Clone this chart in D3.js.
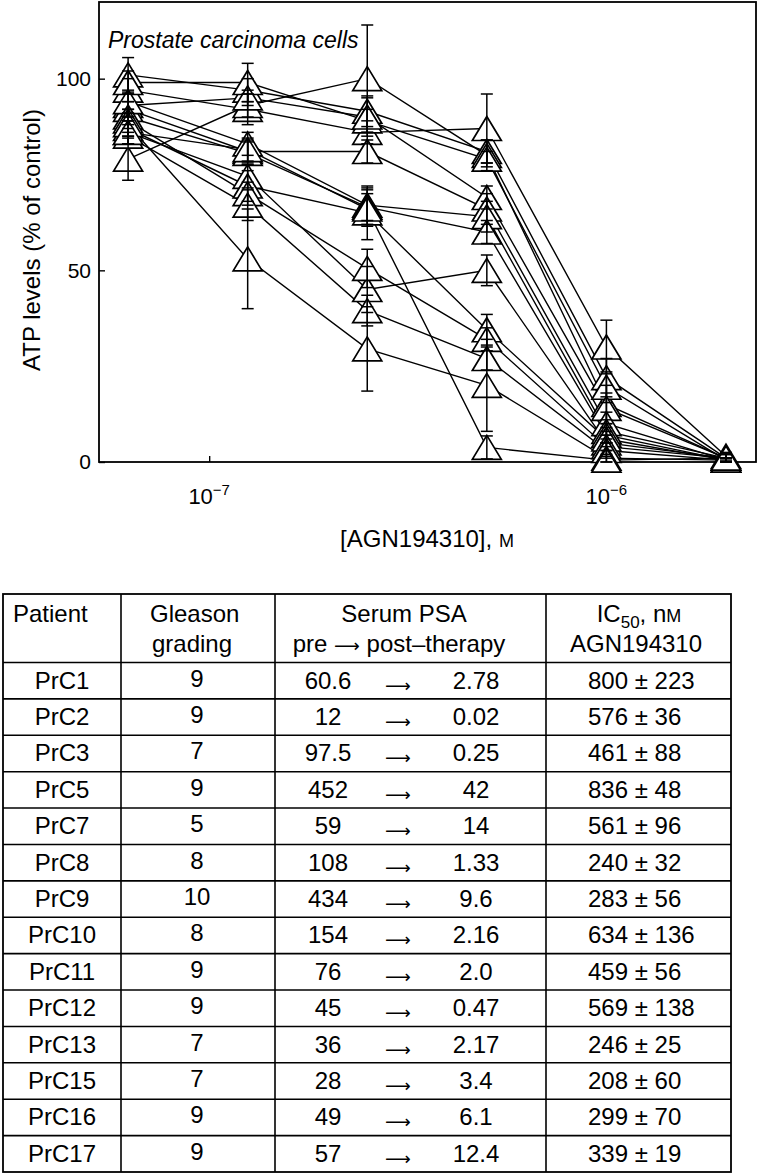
<!DOCTYPE html>
<html>
<head>
<meta charset="utf-8">
<script src="https://cdn.jsdelivr.net/npm/d3@7"></script>
<style>
  body { margin: 0; background: #fff; }
  svg { display: block; font-family: "Liberation Sans", Arial, sans-serif; }
  text { fill: #000; }
</style>
</head>
<body>
<script>
// concentrations of AGN194310 (M)
const concentrations = [6.25e-8, 1.25e-7, 2.5e-7, 5e-7, 1e-6, 2e-6]

// ATP levels (% of control), one row per cell line
const seriesNames = ["s1", "s2", "s3", "s4", "s5", "s6", "s7", "s8", "s9", "s10", "s11", "s12", "s13", "s14"]
const atpMeans = [
  [97, 92, 86, 87, 30, 1.5],
  [101, 97, 91.5, 81, 22, 1],
  [79, 93, 100, 80, 15, 1],
  [99, 99, 89, 79, 19.5, 0.5],
  [93, 95, 90, 69, 14, 1],
  [92, 81, 81, 66, 10, 0.5],
  [94, 83, 67, 64, 8, 1],
  [90, 80.5, 66.5, 60, 7, 0.5],
  [86, 74.5, 45, 50, 5, 1],
  [87, 72, 65, 34.5, 6, 0.5],
  [89, 70, 50.5, 32, 4, 1],
  [85, 67, 39.5, 27, 3, 0.5],
  [88, 53, 29.5, 20, 1, 0.5],
  [86, 81.5, 66, 3.8, 0.5, 1]
]
const atpSD = [
  [3, 4, 3, 9, 7, 1],
  [4.5, 3, 4, 3, 5, 1],
  [5.5, 3, 14, 4, 5, 1],
  [3, 5, 3, 2, 4, 0.5],
  [3, 2, 5, 3, 4, 1],
  [2, 3, 3, 4, 3, 0.5],
  [3, 3, 4, 4, 3, 1],
  [2, 3, 5, 3, 2, 0.5],
  [3, 3, 6, 4, 2, 1],
  [2, 4, 7, 4, 2, 0.5],
  [3, 3, 5, 3, 2, 1],
  [2, 4, 4, 3, 2, 0.5],
  [3, 13, 11, 12, 2, 0.5],
  [3, 3, 4, 3, 1, 1]
]
const yTicks = [0, 50, 100]
const xTicks = [1e-7, 1e-6]
const xTickExp = ["\u22127", "\u22126"]

// table
const tablePatients = ["PrC1", "PrC2", "PrC3", "PrC5", "PrC7", "PrC8", "PrC9", "PrC10", "PrC11", "PrC12", "PrC13", "PrC15", "PrC16", "PrC17"]
const tableGleason = ["9", "9", "7", "9", "5", "8", "10", "8", "9", "9", "7", "7", "9", "9"]
const tablePsaPre = ["60.6", "12", "97.5", "452", "59", "108", "434", "154", "76", "45", "36", "28", "49", "57"]
const tablePsaPost = ["2.78", "0.02", "0.25", "42", "14", "1.33", "9.6", "2.16", "2.0", "0.47", "2.17", "3.4", "6.1", "12.4"]
const tableIc50 = ["800", "576", "461", "836", "561", "240", "283", "634", "459", "569", "246", "208", "299", "339"]
const tableIc50Err = ["223", "36", "88", "48", "96", "32", "56", "136", "56", "138", "25", "60", "70", "19"]

const W = 759, H = 1176
const svg = d3.select("body").append("svg").attr("width", W).attr("height", H)

// ---- chart ----
const pLeft = 99, pRight = 756, pTop = 2, pBottom = 462

const x = d3.scaleLog().domain([5.28e-8, 2.38e-6]).range([pLeft, pRight])
const y = d3.scaleLinear().domain([0, 120]).range([pBottom, pTop])

const chart = svg.append("g")

// axes, ticks pointing inwards
chart.append("g")
  .attr("transform", `translate(${pLeft},0)`)
  .call(d3.axisLeft(y).tickValues(yTicks).tickSize(-6).tickPadding(8))
  .call(g => g.select(".domain").remove())
  .call(g => g.selectAll("line").attr("stroke", "#000").attr("stroke-width", 1.4))
  .call(g => g.selectAll("text").attr("font-size", 21).attr("font-family", null))

chart.append("g")
  .attr("transform", `translate(0,${pBottom})`)
  .call(d3.axisBottom(x).tickValues(xTicks).tickSize(-6).tickFormat(() => ""))
  .call(g => g.select(".domain").remove())
  .call(g => g.selectAll("line").attr("stroke", "#000").attr("stroke-width", 1.4))

// tick labels 10^n
const xLab = chart.append("g").selectAll("text")
  .data(xTicks)
  .enter()
  .append("text")
  .attr("x", d => x(d))
  .attr("y", 504)
  .attr("text-anchor", "middle")
  .attr("font-size", 22)
xLab.append("tspan").text("10")
xLab.append("tspan")
  .attr("dy", -9)
  .attr("font-size", 15)
  .text((d, i) => xTickExp[i])

// frame
chart.append("rect")
  .attr("x", pLeft).attr("y", pTop)
  .attr("width", pRight - pLeft).attr("height", pBottom - pTop)
  .attr("fill", "none")
  .attr("stroke", "#000")
  .attr("stroke-width", 1.8)

const series = seriesNames.map((name, i) => ({
  name: name,
  points: concentrations.map((c, j) => ({c: c, v: atpMeans[i][j], sd: atpSD[i][j]}))
}))

const line = d3.line().x(d => x(d.c)).y(d => y(d.v))

chart.append("g").selectAll("path")
  .data(series)
  .enter()
  .append("path")
  .attr("d", d => line(d.points))
  .attr("fill", "none")
  .attr("stroke", "#000")
  .attr("stroke-width", 1.4)

const allPoints = series.flatMap(s => s.points)

// triangles
chart.append("g").selectAll("path")
  .data(allPoints)
  .enter()
  .append("path")
  .attr("transform", d => `translate(${x(d.c)},${y(d.v)})`)
  .attr("d", "M0,-12L14.5,12L-14.5,12Z")
  .attr("fill", "#fff")
  .attr("stroke", "#000")
  .attr("stroke-width", 1.7)

// error bars
const err = chart.append("g").selectAll("g")
  .data(allPoints)
  .enter()
  .append("g")
  .attr("stroke", "#000")
  .attr("stroke-width", 1.5)

err.append("line")
  .attr("x1", d => x(d.c)).attr("x2", d => x(d.c))
  .attr("y1", d => y(d.v + d.sd)).attr("y2", d => y(Math.max(0, d.v - d.sd)))
err.append("line")
  .attr("x1", d => x(d.c) - 6).attr("x2", d => x(d.c) + 6)
  .attr("y1", d => y(d.v + d.sd)).attr("y2", d => y(d.v + d.sd))
err.append("line")
  .attr("x1", d => x(d.c) - 6).attr("x2", d => x(d.c) + 6)
  .attr("y1", d => y(Math.max(0, d.v - d.sd))).attr("y2", d => y(Math.max(0, d.v - d.sd)))

chart.append("text")
  .attr("x", 108).attr("y", 48)
  .attr("font-size", 23)
  .attr("font-style", "italic")
  .text("Prostate carcinoma cells")

chart.append("text")
  .attr("transform", "translate(40,240) rotate(-90)")
  .attr("text-anchor", "middle")
  .attr("font-size", 24)
  .text("ATP levels (% of control)")

const xTitle = chart.append("text")
  .attr("x", 427).attr("y", 547)
  .attr("text-anchor", "middle")
  .attr("font-size", 24)
xTitle.append("tspan").text("[AGN194310], ")
xTitle.append("tspan").attr("font-size", 18).text("M")

// ---- table ----
const tTop = 594, tHead = 662.5, tBottom = 1172
const colEdges = [3, 121, 275, 546, 731]

const rowY = d3.scaleBand()
  .domain(tablePatients)
  .range([tHead, tBottom])

const table = svg.append("g").attr("font-size", 24)

table.append("rect")
  .attr("x", colEdges[0]).attr("y", tTop)
  .attr("width", colEdges[4] - colEdges[0]).attr("height", tBottom - tTop)
  .attr("fill", "none").attr("stroke", "#000").attr("stroke-width", 1.8)

table.selectAll("line.v")
  .data(colEdges.slice(1, 4))
  .enter()
  .append("line")
  .attr("x1", d => d).attr("x2", d => d)
  .attr("y1", tTop).attr("y2", tBottom)
  .attr("stroke", "#000").attr("stroke-width", 1.6)

table.selectAll("line.h")
  .data(tablePatients)
  .enter()
  .append("line")
  .attr("x1", colEdges[0]).attr("x2", colEdges[4])
  .attr("y1", d => rowY(d)).attr("y2", d => rowY(d))
  .attr("stroke", "#000").attr("stroke-width", 1.6)

// long thin arrow, as in the typeset table
const arrowFont = "'DejaVu Sans', sans-serif"
const arrowChar = "\u27f6"

// header
const head1 = tTop + 28, head2 = tTop + 58
table.append("text").attr("x", 13).attr("y", head1).text("Patient")
table.append("text").attr("x", 150).attr("y", head1).text("Gleason")
table.append("text").attr("x", 152).attr("y", head2).text("grading")
table.append("text").attr("x", 404).attr("y", head1).attr("text-anchor", "middle").text("Serum PSA")
const psaHead = table.append("text").attr("x", 399).attr("y", head2).attr("text-anchor", "middle")
psaHead.append("tspan").text("pre ")
psaHead.append("tspan").style("font-family", arrowFont).attr("font-size", 18).text(arrowChar)
psaHead.append("tspan").text(" post\u2013therapy")
const icHead = table.append("text").attr("x", 639).attr("y", head1).attr("text-anchor", "middle")
icHead.append("tspan").text("IC")
icHead.append("tspan").attr("font-size", 17).attr("dy", 6).text("50")
icHead.append("tspan").attr("dy", -6).text(", n")
icHead.append("tspan").attr("font-size", 18).text("M")
table.append("text").attr("x", 636).attr("y", head2).attr("text-anchor", "middle").text("AGN194310")

// rows
const rows = table.selectAll("g.row")
  .data(tablePatients)
  .enter()
  .append("g")
  .attr("transform", d => `translate(0,${rowY(d) + rowY.bandwidth() / 2 + 8})`)

rows.append("text").attr("x", 62).attr("text-anchor", "middle").text(d => d)
rows.append("text").attr("x", 197).attr("y", -2).attr("text-anchor", "middle").text((d, i) => tableGleason[i])
rows.append("text").attr("x", 328).attr("text-anchor", "middle").text((d, i) => tablePsaPre[i])
rows.append("text").attr("x", 398).attr("y", 3).attr("text-anchor", "middle")
  .style("font-family", arrowFont).attr("font-size", 18).text(arrowChar)
rows.append("text").attr("x", 476).attr("text-anchor", "middle").text((d, i) => tablePsaPost[i])
rows.append("text").attr("x", 588).text((d, i) => tableIc50[i] + " \u00b1 " + tableIc50Err[i])
</script>
</body>
</html>
